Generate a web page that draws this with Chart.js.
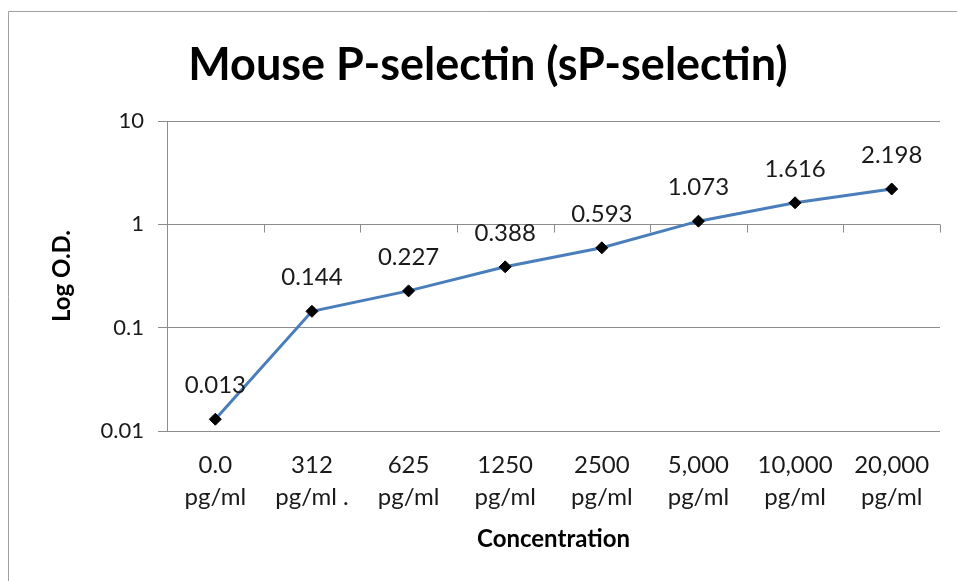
<!DOCTYPE html>
<html>
<head>
<meta charset="utf-8">
<script src="https://cdn.jsdelivr.net/npm/chart.js@4.4.1/dist/chart.umd.min.js"></script>
<style>
  body { margin: 0; background: #fff; }
  #wrap { width: 957px; height: 581px; }
</style>
</head>
<body>
<div id="wrap"><canvas id="chart" width="957" height="581"></canvas></div>
<script>
const chartTitle = 'Mouse P-selectin (sP-selectin)';
const categories = [
  ['0.0', 'pg/ml'], ['312', 'pg/ml .'], ['625', 'pg/ml'], ['1250', 'pg/ml'],
  ['2500', 'pg/ml'], ['5,000', 'pg/ml'], ['10,000', 'pg/ml'], ['20,000', 'pg/ml']
];
const odValues = [0.013, 0.144, 0.227, 0.388, 0.593, 1.073, 1.616, 2.198];
const yTicks = [0.01, 0.1, 1, 10];

const FONT = 'Lato, "Open Sans", sans-serif';
const GRID = '#8c8c8c';

// outer frame of the chart sheet + title (centred on the sheet, not the plot)
const framePlugin = {
  id: 'frame',
  beforeDraw(chart) {
    const ctx = chart.ctx;
    ctx.save();
    ctx.strokeStyle = '#a0a0a0';
    ctx.lineWidth = 1;
    ctx.beginPath();
    ctx.moveTo(8.5, 581);
    ctx.lineTo(8.5, 11.5);
    ctx.lineTo(957, 11.5);
    ctx.stroke();
    ctx.font = 'bold 45px ' + FONT;
    ctx.fillStyle = '#000';
    ctx.textAlign = 'center';
    ctx.textBaseline = 'middle';
    ctx.fillText(chartTitle, 488, 65);
    ctx.restore();
  }
};

// category tick marks sit on the 1 line (axis crosses there)
const crossTicks = {
  id: 'crossTicks',
  beforeDatasetsDraw(chart) {
    const { ctx, chartArea } = chart;
    const y = Math.round(chart.scales.y.getPixelForValue(1)) + 0.5;
    const step = (chartArea.right - chartArea.left) / categories.length;
    ctx.save();
    ctx.strokeStyle = GRID;
    ctx.lineWidth = 1;
    ctx.beginPath();
    for (let i = 0; i <= categories.length; i++) {
      const x = Math.round(chartArea.left + i * step) + 0.5;
      ctx.moveTo(x, y);
      ctx.lineTo(x, y + 8);
    }
    ctx.stroke();
    ctx.restore();
  }
};

const valueLabels = {
  id: 'valueLabels',
  afterDatasetsDraw(chart) {
    const ctx = chart.ctx;
    const meta = chart.getDatasetMeta(0);
    ctx.save();
    ctx.font = '24px ' + FONT;
    ctx.fillStyle = '#1a1a1a';
    ctx.textAlign = 'center';
    ctx.textBaseline = 'middle';
    meta.data.forEach((pt, i) => {
      ctx.fillText(odValues[i].toFixed(3), pt.x, pt.y - 34);
    });
    ctx.restore();
  }
};

new Chart(document.getElementById('chart'), {
  type: 'line',
  data: {
    labels: categories,
    datasets: [{
      data: odValues,
      borderColor: '#4a7ebb',
      borderWidth: 3,
      pointStyle: 'rectRot',
      pointRadius: 6,
      pointBackgroundColor: '#000',
      pointBorderColor: '#000',
      pointBorderWidth: 1,
      tension: 0
    }]
  },
  options: {
    responsive: false,
    animation: false,
    layout: { padding: { left: 0, right: 17, top: 121, bottom: 0 } },
    plugins: {
      legend: { display: false },
      tooltip: { enabled: false },
      title: { display: false }
    },
    scales: {
      x: {
        type: 'category',
        offset: true,
        grid: { display: false },
        border: { display: false },
        ticks: {
          color: '#1a1a1a',
          font: { family: FONT, size: 24, lineHeight: 1.35 },
          padding: 10,
          maxRotation: 0,
          autoSkip: false
        },
        title: {
          display: true,
          text: 'Concentration',
          color: '#000',
          font: { family: FONT, size: 24, weight: 'bold' },
          padding: { top: 4, bottom: 27 }
        },
        afterFit(scale) { scale.height = 150; }
      },
      y: {
        type: 'logarithmic',
        min: 0.01,
        max: 10,
        afterBuildTicks(scale) {
          scale.ticks = yTicks.map(v => ({ value: v }));
        },
        grid: { color: GRID, tickLength: 9, drawTicks: true },
        border: { color: GRID },
        ticks: {
          color: '#1a1a1a',
          font: { family: FONT, size: 22 },
          padding: 14,
          callback: v => String(v)
        },
        title: {
          display: true,
          text: 'Log O.D.',
          color: '#000',
          font: { family: FONT, size: 24, weight: 'bold' },
          padding: { top: 48 }
        },
        afterFit(scale) { scale.width = 167; }
      }
    }
  },
  plugins: [framePlugin, crossTicks, valueLabels]
});
</script>
</body>
</html>
